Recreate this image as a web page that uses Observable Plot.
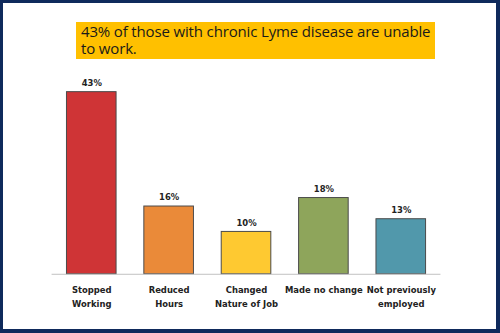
<!DOCTYPE html>
<html>
<head>
<meta charset="utf-8">
<script src="https://cdn.jsdelivr.net/npm/d3@7"></script>
<script src="https://cdn.jsdelivr.net/npm/@observablehq/plot@0.6"></script>
<style>
  html, body { margin: 0; padding: 0; background: #fff; }
  #frame {
    position: relative; width: 500px; height: 333px; box-sizing: border-box;
    border-style: solid; border-color: #0f2a5c;
    border-width: 3px 4px 4px 3px; overflow: hidden; background: #fff;
  }
  #title {
    position: absolute; left: 73px; top: 19px; width: 359px; height: 37px;
    background: #ffc000; box-sizing: border-box; padding: 1px 3px 0 5px;
    font-family: "Open Sans", sans-serif; font-size: 15px; line-height: 17px;
    color: #1a1a1a; letter-spacing: -0.15px;
  }
  #chart { position: absolute; left: -3px; top: -3px; }
</style>
</head>
<body>
<div id="frame">
  <div id="title">43% of those with chronic Lyme disease are unable to work.</div>
  <div id="chart"></div>
</div>
<script>
const categories = ["Stopped Working", "Reduced Hours", "Changed Nature of Job", "Made no change", "Not previously employed"];
const tickLabels = ["Stopped\nWorking", "Reduced\nHours", "Changed\nNature of Job", "Made no change", "Not previously\nemployed"];
const values = [43, 16, 10, 18, 13];
const colors = ["#cf3436", "#ea8a39", "#fec931", "#8ea55b", "#5198ab"];

const data = categories.map((c, i) => ({category: c, value: values[i], color: colors[i], label: tickLabels[i]}));

const plot = Plot.plot({
  width: 500,
  height: 333,
  marginLeft: 52,
  marginRight: 56,
  marginTop: 62.5,
  marginBottom: 57,
  style: {fontFamily: "DejaVu Sans", background: "transparent", overflow: "visible"},
  x: {domain: categories, paddingInner: 0.36, paddingOuter: 0.18, label: null},
  y: {domain: [0, 50], axis: null},
  marks: [
    Plot.barY(data, {x: "category", y: "value", fill: "color", stroke: "#4a4a4a", strokeWidth: 1}),
    Plot.ruleY([0], {stroke: "#c0c0c0", strokeWidth: 1}),
    Plot.text(data, {x: "category", y: "value", text: d => d.value + "%", dy: -9, fontWeight: "bold", fontSize: 8.5, fill: "#222"}),
    Plot.axisX({
      tickSize: 0, tickPadding: 10, fontWeight: "bold", fontSize: 8.5, color: "#222",
      tickFormat: c => tickLabels[categories.indexOf(c)], lineHeight: 1.55
    })
  ]
});
document.getElementById("chart").appendChild(plot);
</script>
</body>
</html>
